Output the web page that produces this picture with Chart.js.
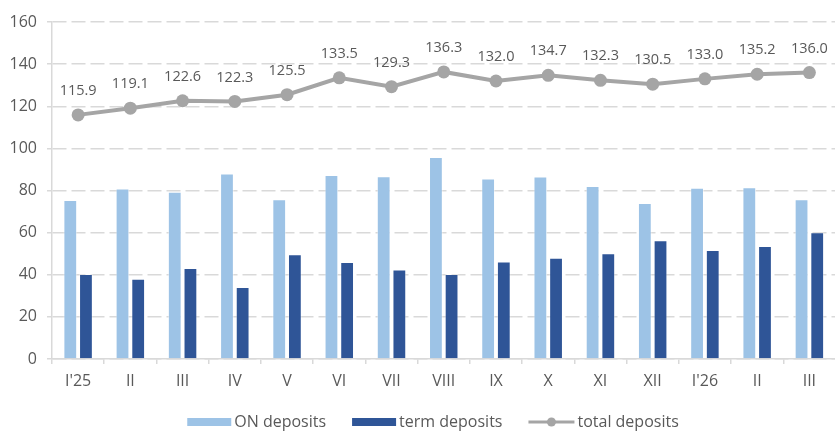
<!DOCTYPE html>
<html>
<head>
<meta charset="utf-8">
<script src="https://cdn.jsdelivr.net/npm/chart.js@4/dist/chart.umd.min.js"></script>
<style>
  html, body { margin: 0; padding: 0; background: #ffffff; overflow: hidden; }
  #wrap { width: 842px; height: 431px; }
</style>
</head>
<body>
<div id="wrap"><canvas id="chart" width="842" height="431"></canvas></div>
<script>
// Monthly deposits (bn)
const months = ["I'25", "II", "III", "IV", "V", "VI", "VII", "VIII", "IX", "X", "XI", "XII", "I'26", "II", "III"];
const onDeposits = [75.5, 81.0, 79.4, 88.1, 75.8, 87.4, 86.8, 95.9, 85.7, 86.6, 82.1, 74.1, 81.3, 81.6, 75.8];
const termDeposits = [40.4, 38.1, 43.2, 34.2, 49.7, 46.1, 42.5, 40.4, 46.3, 48.1, 50.2, 56.4, 51.7, 53.6, 60.2];
const totalDeposits = [115.9, 119.1, 122.6, 122.3, 125.5, 133.5, 129.3, 136.3, 132.0, 134.7, 132.3, 130.5, 133.0, 135.2, 136.0];
const yTicks = [0, 20, 40, 60, 80, 100, 120, 140, 160];

const TEXT = '#595959';
const GRID = '#D9D9D9';
const FONT = '"Open Sans", "Noto Sans", sans-serif';
const C_ON = '#9DC3E6';
const C_TERM = '#2F5597';
const C_TOTAL = '#A5A5A5';

// Value labels above each point of the total line
const totalLabels = {
  id: 'totalLabels',
  afterDatasetsDraw(chart) {
    const meta = chart.getDatasetMeta(2);
    const ctx = chart.ctx;
    ctx.save();
    ctx.font = '14.5px ' + FONT;
    ctx.fillStyle = TEXT;
    ctx.textAlign = 'center';
    ctx.textBaseline = 'middle';
    meta.data.forEach((pt, i) => {
      ctx.fillText(totalDeposits[i].toFixed(1), pt.x, pt.y - 24);
    });
    ctx.restore();
  }
};

// Legend row under the axis
const bottomLegend = {
  id: 'bottomLegend',
  afterDraw(chart) {
    const ctx = chart.ctx;
    const ds = chart.data.datasets;
    ctx.save();
    ctx.font = '16px ' + FONT;
    ctx.textBaseline = 'middle';
    ctx.textAlign = 'left';
    const cy = 422;
    const boxW = 44, lineW = 46, gapText = 3, gapItem = 26;
    const w = ds.map(d => ctx.measureText(d.label).width);
    const total = boxW + gapText + w[0] + gapItem + boxW + gapText + w[1] + gapItem + lineW + gapText + w[2];
    let x = 433 - total / 2;
    for (let i = 0; i < 3; i++) {
      if (i < 2) {
        ctx.fillStyle = ds[i].backgroundColor;
        ctx.fillRect(x, cy - 4, boxW, 8);
        x += boxW + gapText;
      } else {
        ctx.strokeStyle = ds[i].borderColor;
        ctx.lineWidth = 3;
        ctx.beginPath();
        ctx.moveTo(x, cy);
        ctx.lineTo(x + lineW, cy);
        ctx.stroke();
        ctx.fillStyle = ds[i].borderColor;
        ctx.beginPath();
        ctx.arc(x + lineW / 2, cy, 4.5, 0, Math.PI * 2);
        ctx.fill();
        x += lineW + gapText;
      }
      ctx.fillStyle = TEXT;
      ctx.fillText(ds[i].label, x, cy);
      x += w[i] + gapItem;
    }
    ctx.restore();
  }
};

new Chart(document.getElementById('chart'), {
  data: {
    labels: months,
    datasets: [
      {
        type: 'bar',
        label: 'ON deposits',
        data: onDeposits,
        backgroundColor: C_ON,
        borderColor: 'rgba(255,255,255,0.45)',
        borderWidth: 1,
        categoryPercentage: 0.6,
        barPercentage: 0.88,
        order: 2
      },
      {
        type: 'bar',
        label: 'term deposits',
        data: termDeposits,
        backgroundColor: C_TERM,
        borderColor: 'rgba(255,255,255,0.35)',
        borderWidth: 1,
        categoryPercentage: 0.6,
        barPercentage: 0.88,
        order: 2
      },
      {
        type: 'line',
        label: 'total deposits',
        data: totalDeposits,
        borderColor: C_TOTAL,
        backgroundColor: C_TOTAL,
        borderWidth: 4,
        pointRadius: 6.5,
        pointBackgroundColor: C_TOTAL,
        pointBorderWidth: 0,
        tension: 0,
        order: 1
      }
    ]
  },
  options: {
    responsive: false,
    animation: false,
    devicePixelRatio: 1,
    layout: { padding: { top: 22, right: 0, bottom: 0, left: 0 } },
    plugins: {
      legend: { display: false },
      tooltip: { enabled: false }
    },
    scales: {
      x: {
        offset: true,
        grid: {
          display: true,
          offset: true,
          drawOnChartArea: false,
          drawTicks: true,
          tickLength: 5,
          color: GRID,
          lineWidth: 1.5
        },
        border: { display: true, color: GRID, width: 1.5 },
        ticks: {
          color: TEXT,
          font: { family: FONT, size: 16 },
          padding: 8,
          maxRotation: 0,
          autoSkip: false
        },
        afterFit(scale) { scale.height = 72; }
      },
      y: {
        min: 0,
        max: 160,
        afterBuildTicks(scale) { scale.ticks = yTicks.map(v => ({ value: v })); },
        grid: {
          color: GRID,
          lineWidth: 1.5,
          drawTicks: true,
          tickLength: 5,
          tickBorderDash: []
        },
        border: { display: true, color: GRID, width: 1.5, dash: [14, 5] },
        ticks: {
          color: TEXT,
          font: { family: FONT, size: 16 },
          padding: 10
        },
        afterFit(scale) { scale.width = 52; }
      }
    }
  },
  plugins: [totalLabels, bottomLegend]
});
</script>
</body>
</html>
